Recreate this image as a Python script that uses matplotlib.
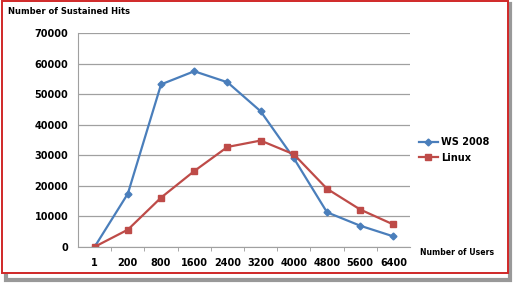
import matplotlib.pyplot as plt
from matplotlib.patches import Rectangle

# datos
users = ["1", "200", "800", "1600", "2400", "3200", "4000", "4800", "5600", "6400"]
ws2008 = [0, 17400, 53200, 57500, 53900, 44400, 29000, 11300, 6900, 3400]
linux = [0, 5600, 16100, 24800, 32700, 34800, 30300, 19000, 12200, 7300]
yticks = [0, 10000, 20000, 30000, 40000, 50000, 60000, 70000]

blue = "#4A7EBB"
red = "#BE4B48"

fig = plt.figure(figsize=(5.17, 2.83), dpi=100)
ax = fig.add_axes([0.151, 0.128, 0.642, 0.755])
ax.patch.set_alpha(0)

x = list(range(len(users)))
ax.plot(x, ws2008, color=blue, lw=1.6, marker="D", ms=3.5, label="WS 2008")
ax.plot(x, linux, color=red, lw=1.6, marker="s", ms=5, label="Linux")

ax.set_xlim(-0.5, len(users) - 0.5)
ax.set_ylim(0, 70000)
ax.set_yticks(yticks)
ax.set_yticklabels([str(v) for v in yticks], fontsize=7, fontweight="bold")
ax.set_xticks(x)
ax.set_xticklabels(users, fontsize=7, fontweight="bold")
ax.tick_params(axis="x", length=0, pad=8)
ax.tick_params(axis="y", length=0, pad=7)
# marcas entre categorias
ax.set_xticks([i - 0.5 for i in range(1, len(users))], minor=True)
ax.tick_params(axis="x", which="minor", length=3, color="#999999", direction="out")

ax.grid(axis="y", color="#A0A0A0", lw=0.9)
ax.set_axisbelow(True)
for s in ["top", "right"]:
    ax.spines[s].set_visible(False)
ax.spines["left"].set_color("#A0A0A0")
ax.spines["bottom"].set_color("#A0A0A0")

fig.text(0.016, 0.95, "Number of Sustained Hits", fontsize=6, fontweight="bold")
fig.text(0.812, 0.1, "Number of Users", fontsize=5.6, fontweight="bold")

ax.legend(loc="upper left", bbox_to_anchor=(1.0, 0.555), frameon=False,
          prop={"weight": "bold", "size": 7}, handlelength=2.0,
          handletextpad=0.3, labelspacing=0.6)

# borde rojo y sombra
fig.patches.append(Rectangle((0.012, 0.012), 0.975, 0.975, transform=fig.transFigure,
                             fill=False, edgecolor="#999999", lw=3, zorder=-3))
fig.patches.append(Rectangle((0.003, 0.035), 0.98, 0.96, transform=fig.transFigure,
                             facecolor="white", edgecolor="#D02828", lw=1.4, zorder=-2))

plt.savefig("out.png", dpi=100)
